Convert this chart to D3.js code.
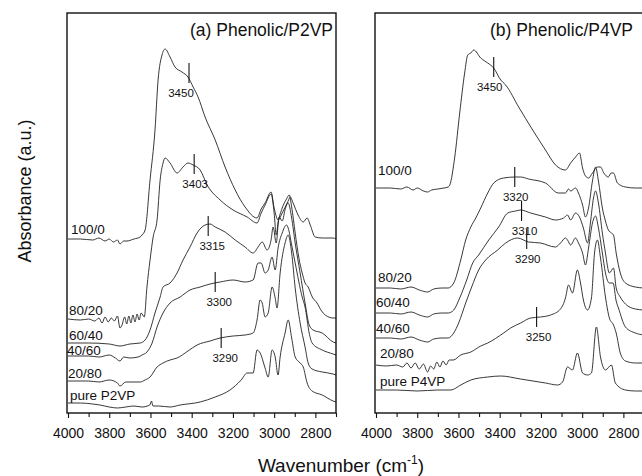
<!DOCTYPE html>
<html>
<meta charset="utf-8">
<script src="https://d3js.org/d3.v7.min.js"></script>
<style>
  body { margin: 0; background: #fff; }
  text { font-family: Arial, "Liberation Sans", sans-serif; fill: #111; }
</style>
<body>
<div id="chart"></div>
<script>

// ---- data: [wavenumber, absorbance (arbitrary, offset per blend)] ----
// (a) Phenolic/P2VP
var p2vp_100_0 = [[4000,174],[3940,174],[3880,173],[3850,175],[3820,172],[3800,174],[3780,171],[3760,173],[3748,169],[3730,172],[3714,172],[3680,174],[3650,176],[3641,178],[3626,183],[3602,233],[3578,283],[3563,333],[3544,358],[3529,364],[3505,356],[3481,346],[3447,341],[3418,336],[3393,326],[3369,316],[3335,296],[3286,273],[3238,246],[3189,223],[3141,206],[3083,195],[3063,204],[3044,210],[3015,221],[3000,205],[2981,193],[2961,200],[2932,212],[2922,216],[2908,210],[2884,198],[2859,191],[2840,195],[2825,188],[2801,176],[2767,175],[2714,175],[2700,174]];
var p2vp_80_20 = [[4000,94],[3940,93],[3900,94],[3870,92],[3850,95],[3835,90],[3820,96],[3805,91],[3790,95],[3775,92],[3760,97],[3748,85],[3738,88],[3725,96],[3715,89],[3705,97],[3695,90],[3685,98],[3675,91],[3665,99],[3655,93],[3645,100],[3630,96],[3617,126],[3602,153],[3587,176],[3568,193],[3553,233],[3539,250],[3529,255],[3505,250],[3471,240],[3442,246],[3418,250],[3393,248],[3359,243],[3325,228],[3262,213],[3199,203],[3131,196],[3083,190],[3063,200],[3044,208],[3015,219],[3000,200],[2990,178],[2981,190],[2961,205],[2940,214],[2927,218],[2915,206],[2898,180],[2880,155],[2864,140],[2850,130],[2835,126],[2815,116],[2792,110],[2770,102],[2752,98],[2714,95],[2700,95]];
var p2vp_60_40 = [[4000,70],[3900,70],[3800,69],[3748,67],[3700,69],[3650,70],[3626,73],[3602,83],[3578,100],[3553,116],[3539,126],[3505,130],[3471,140],[3442,153],[3408,166],[3374,180],[3335,188],[3311,189],[3286,186],[3238,181],[3189,173],[3141,166],[3102,160],[3078,166],[3058,171],[3034,163],[3015,173],[3005,186],[2990,170],[2976,196],[2961,192],[2945,205],[2932,210],[2915,195],[2898,170],[2874,140],[2850,110],[2830,88],[2811,83],[2767,80],[2714,71],[2700,70]];
var p2vp_40_60 = [[4000,57],[3900,57],[3850,56],[3800,58],[3770,55],[3748,52],[3730,56],[3700,55],[3660,56],[3641,58],[3617,61],[3592,70],[3568,86],[3539,100],[3505,110],[3456,116],[3408,123],[3359,126],[3311,129],[3262,131],[3199,133],[3141,131],[3102,133],[3078,150],[3063,150],[3044,140],[3029,143],[3010,156],[2995,143],[2981,165],[2961,180],[2940,188],[2932,185],[2915,168],[2898,150],[2864,116],[2850,106],[2830,80],[2816,70],[2767,63],[2714,59],[2700,58]];
var p2vp_20_80 = [[4000,32],[3900,32],[3850,31],[3800,33],[3760,30],[3748,27],[3720,31],[3680,31],[3650,31],[3626,33],[3602,36],[3568,46],[3539,50],[3505,53],[3471,55],[3418,62],[3374,68],[3311,72],[3262,75],[3199,77],[3141,78],[3102,80],[3083,93],[3068,113],[3058,110],[3044,96],[3029,100],[3010,126],[2995,115],[2986,105],[2971,140],[2947,170],[2932,178],[2915,160],[2898,125],[2874,90],[2850,66],[2835,50],[2816,44],[2767,41],[2714,39],[2700,38]];
var p2vp_pure = [[4000,10],[3940,10],[3880,9],[3845,8],[3800,6],[3760,5],[3720,6],[3680,7],[3641,6],[3603,8],[3595,12],[3588,7],[3560,7],[3505,6],[3456,8],[3359,11],[3286,16],[3214,23],[3160,33],[3131,40],[3102,40],[3083,63],[3068,60],[3044,45],[3029,36],[3010,63],[2995,56],[2981,38],[2971,56],[2947,80],[2932,93],[2915,75],[2898,56],[2874,50],[2859,46],[2840,30],[2816,22],[2767,18],[2714,12],[2700,11]];

// (b) Phenolic/P4VP
var p4vp_100_0 = [[4000,225],[3930,225],[3880,224],[3850,226],[3820,223],[3800,225],[3770,222],[3750,221],[3730,223],[3700,224],[3670,225],[3650,226],[3642,228],[3618,256],[3594,300],[3570,340],[3555,358],[3540,360],[3526,363],[3492,355],[3458,350],[3429,345],[3395,333],[3371,328],[3308,306],[3240,283],[3178,263],[3129,248],[3081,243],[3056,250],[3032,256],[3013,260],[2998,245],[2984,237],[2969,235],[2950,240],[2926,246],[2911,246],[2895,240],[2873,236],[2860,240],[2848,240],[2829,230],[2790,226],[2742,225],[2700,225]];
var p4vp_80_20 = [[4000,125],[3930,125],[3880,124],[3830,126],[3790,123],[3750,121],[3720,124],[3680,125],[3650,125],[3623,130],[3589,153],[3565,173],[3540,186],[3516,195],[3492,205],[3458,220],[3429,230],[3381,235],[3323,236],[3298,236],[3260,234],[3178,230],[3115,220],[3081,220],[3066,224],[3056,222],[3032,225],[3018,220],[2998,208],[2984,196],[2969,205],[2950,232],[2935,246],[2921,232],[2902,205],[2887,192],[2873,183],[2858,180],[2848,178],[2835,160],[2815,140],[2790,130],[2742,126],[2700,125]];
var p4vp_60_40 = [[4000,100],[3930,100],[3880,99],[3830,101],[3790,98],[3750,96],[3720,99],[3680,100],[3650,100],[3623,103],[3594,115],[3560,133],[3531,150],[3502,158],[3453,173],[3405,186],[3361,200],[3323,202],[3298,203],[3250,200],[3178,196],[3129,193],[3090,195],[3071,198],[3056,193],[3032,200],[3013,196],[2994,185],[2974,170],[2960,190],[2945,215],[2935,222],[2921,210],[2902,180],[2887,160],[2868,140],[2848,145],[2835,125],[2815,116],[2790,109],[2742,104],[2700,103]];
var p4vp_40_60 = [[4000,75],[3930,75],[3880,74],[3830,76],[3790,73],[3750,71],[3720,74],[3680,75],[3650,75],[3623,80],[3599,90],[3565,110],[3536,126],[3502,143],[3468,153],[3410,163],[3371,170],[3313,175],[3260,171],[3202,170],[3129,166],[3105,170],[3081,175],[3071,173],[3056,168],[3032,175],[3018,170],[2998,160],[2984,148],[2969,165],[2950,190],[2935,197],[2921,185],[2902,160],[2887,140],[2868,130],[2850,130],[2835,112],[2824,105],[2790,86],[2742,80],[2700,78]];
var p4vp_20_80 = [[4000,48],[3950,47],[3900,48],[3870,46],[3850,50],[3830,45],[3810,50],[3790,44],[3770,49],[3750,41],[3735,47],[3720,44],[3705,51],[3690,46],[3675,52],[3660,48],[3645,53],[3625,53],[3589,58],[3540,61],[3492,67],[3458,70],[3381,80],[3347,85],[3298,90],[3250,95],[3202,96],[3153,98],[3105,104],[3081,115],[3066,128],[3047,120],[3023,143],[3008,130],[2994,113],[2974,103],[2955,115],[2940,160],[2926,173],[2911,155],[2887,116],[2868,95],[2848,88],[2835,80],[2815,60],[2790,52],[2742,50],[2700,50]];
var p4vp_pure = [[4000,23],[3900,23],[3800,22],[3700,23],[3637,23],[3589,28],[3540,33],[3458,36],[3395,37],[3299,34],[3178,30],[3119,28],[3095,31],[3071,46],[3047,43],[3023,60],[2998,40],[2974,38],[2955,40],[2931,86],[2911,56],[2887,43],[2858,48],[2839,30],[2790,23],[2742,22],[2700,22]];

var blendLabelsA = ["100/0", "80/20", "60/40", "40/60", "20/80", "pure P2VP"];
var blendLabelsB = ["100/0", "80/20", "60/40", "40/60", "20/80", "pure P4VP"];

// peak markers: wavenumber where the bar is drawn, absorbance level, label
var markerWaveA = [3413, 3388, 3320, 3286, 3257];
var markerLevelA = [340, 249, 187, 131, 75];
var markerTextA = ["3450", "3403", "3315", "3300", "3290"];
var markerWaveB = [3429, 3327, 3294, 3269, 3221];
var markerLevelB = [346, 236, 202, 174, 96];
var markerTextB = ["3450", "3320", "3310", "3290", "3250"];

var tickValues = d3.range(4000, 2699, -100);

// ---- layout ----
var width = 642, height = 476;
var frameTop = 13, frameBottom = 413;

var svg = d3.select("#chart").append("svg")
    .attr("width", width)
    .attr("height", height);

var y = d3.scaleLinear().domain([0, 400]).range([frameBottom, frameTop]);

var panels = [
  { id: "a", title: "(a) Phenolic/P2VP", left: 67, right: 336, titleX: 333,
    series: [p2vp_100_0, p2vp_80_20, p2vp_60_40, p2vp_40_60, p2vp_20_80, p2vp_pure],
    labels: blendLabelsA, lift: [5, 4, 3, 1, 3, 3], labelDx: [4, 2, 2, 0, 1, 3],
    mw: markerWaveA, ml: markerLevelA, mt: markerTextA, mdx: [-8, 1, 4, 4, 4] },
  { id: "b", title: "(b) Phenolic/P4VP", left: 375, right: 644, titleX: 633,
    series: [p4vp_100_0, p4vp_80_20, p4vp_60_40, p4vp_40_60, p4vp_20_80, p4vp_pure],
    labels: blendLabelsB, lift: [13, 6, 6, 5, 7, 4], labelDx: [3, 3, 1, 1, 5, 5],
    mw: markerWaveB, ml: markerLevelB, mt: markerTextB, mdx: [-4, 1, 3, 1, 2] }
];

panels.forEach(function(p) {
  var x = d3.scaleLinear().domain([4000, 2700]).range([p.left + 1, p.left + 269]);
  var g = svg.append("g");

  g.append("clipPath").attr("id", "clip-" + p.id)
    .append("rect")
      .attr("x", p.left).attr("y", frameTop)
      .attr("width", p.right - p.left).attr("height", frameBottom - frameTop);

  var line = d3.line()
      .x(function(d) { return x(d[0]); })
      .y(function(d) { return y(d[1]); })
      .curve(d3.curveMonotoneX);

  g.append("g").attr("clip-path", "url(#clip-" + p.id + ")")
    .selectAll("path")
    .data(p.series)
    .enter().append("path")
      .attr("d", line)
      .attr("fill", "none")
      .attr("stroke", "#222")
      .attr("stroke-width", 0.9);

  // frame
  g.append("rect")
    .attr("x", p.left).attr("y", frameTop)
    .attr("width", p.right - p.left).attr("height", frameBottom - frameTop)
    .attr("fill", "none").attr("stroke", "#111").attr("stroke-width", 1.4);

  // bottom axis, ticks pointing out
  var axis = d3.axisBottom(x)
      .tickValues(tickValues)
      .tickSize(5)
      .tickPadding(10)
      .tickFormat(function(d) { return d % 200 === 0 ? d : ""; });
  var ax = g.append("g")
      .attr("transform", "translate(0," + frameBottom + ")")
      .call(axis);
  ax.select(".domain").remove();
  ax.selectAll(".tick line").attr("stroke", "#111").attr("stroke-width", 1.1)
    .attr("y2", function(d) { return d % 200 === 0 ? 5 : 4; });
  ax.selectAll(".tick text")
    .style("font-size", "14px")
    .style("font-family", "Arial, 'Liberation Sans', sans-serif")
    .attr("fill", "#111");

  // panel title
  g.append("text")
    .attr("x", p.titleX).attr("y", 36)
    .attr("text-anchor", "end")
    .style("font-size", "17.5px")
    .text(p.title);

  // blend labels sitting on the left end of each trace
  p.series.forEach(function(s, i) {
    g.append("text")
      .attr("x", p.left + p.labelDx[i])
      .attr("y", y(s[0][1]) - p.lift[i])
      .style("font-size", "13.5px")
      .text(p.labels[i]);
  });

  // peak markers
  p.mw.forEach(function(w, i) {
    var cx = x(w), cy = y(p.ml[i]);
    g.append("line")
      .attr("x1", cx).attr("x2", cx)
      .attr("y1", cy - 10).attr("y2", cy + 10)
      .attr("stroke", "#111").attr("stroke-width", 1.1);
    g.append("text")
      .attr("x", cx + p.mdx[i]).attr("y", cy + 24)
      .attr("text-anchor", "middle")
      .style("font-size", "11.5px")
      .text(p.mt[i]);
  });
});

// axis titles
var xt = svg.append("text")
    .attr("x", 341).attr("y", 472)
    .attr("text-anchor", "middle")
    .style("font-size", "19px");
xt.append("tspan").text("Wavenumber (cm");
xt.append("tspan").attr("dy", -8).style("font-size", "12px").text("-1");
xt.append("tspan").attr("dy", 8).text(")");

svg.append("text")
    .attr("transform", "translate(31,191) rotate(-90)")
    .attr("text-anchor", "middle")
    .style("font-size", "18px")
    .text("Absorbance (a.u.)");

</script>
</body>
</html>
